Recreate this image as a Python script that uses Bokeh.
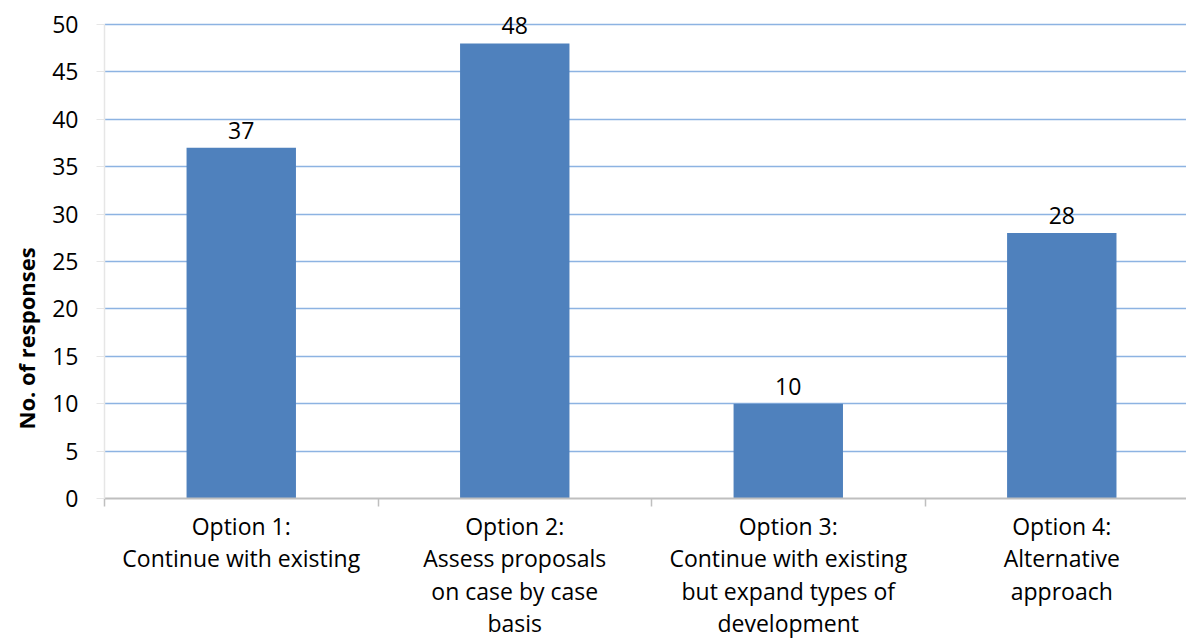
import math
from bokeh.plotting import figure
from bokeh.models import Range1d, FixedTicker, ColumnDataSource, LabelSet, Title
from bokeh.core.properties import value
from bokeh.embed import file_html
from bokeh.resources import INLINE

categories = [
    "Option 1:\nContinue with existing",
    "Option 2:\nAssess proposals\non case by case\nbasis",
    "Option 3:\nContinue with existing\nbut expand types of\ndevelopment",
    "Option 4:\nAlternative\napproach",
]
responses = [37, 48, 10, 28]
y_ticks = [0, 5, 10, 15, 20, 25, 30, 35, 40, 45, 50]
y_title = "No. of responses"

FONT = "Open Sans"
n = len(categories)
centers = [i + 0.5 for i in range(n)]
src = ColumnDataSource(dict(x=centers, top=responses, label=[str(v) for v in responses]))

p = figure(width=1186, height=642, output_backend="svg", toolbar_location=None,
           x_range=Range1d(0, 3.956), y_range=Range1d(0, 52.53),
           min_border_left=104, min_border_right=0, min_border_top=0, min_border_bottom=143)
p.outline_line_color = None
p.background_fill_color = "white"
p.border_fill_color = "white"

p.vbar(x="x", top="top", width=0.4, source=src, fill_color="#4f81bd", line_color=None)

# x axis
xa = p.xaxis[0]
xa.ticker = FixedTicker(ticks=centers, minor_ticks=list(range(0, n + 1)))
xa.major_label_overrides = {c: lab for c, lab in zip(centers, categories)}
xa.major_tick_out = 0
xa.major_tick_in = 0
xa.minor_tick_out = 8
xa.minor_tick_in = 0
xa.minor_tick_line_color = "#bfbfbf"
xa.minor_tick_line_width = 1.5
xa.axis_line_color = "#bfbfbf"
xa.axis_line_width = 2
xa.major_label_standoff = 3
xa.major_label_text_font = FONT
xa.major_label_text_font_size = "23px"
xa.major_label_text_color = "black"
xa.major_label_text_line_height = 1.02

# y axis
ya = p.yaxis[0]
ya.ticker = FixedTicker(ticks=y_ticks)
ya.bounds = (0, 50)
ya.major_tick_out = 8
ya.major_tick_in = 0
ya.minor_tick_out = 0
ya.minor_tick_in = 0
ya.major_tick_line_color = "#e6e6e6"
ya.axis_line_color = "#e6e6e6"
ya.axis_line_width = 1.5
ya.major_label_standoff = 18
ya.major_label_text_font = FONT
ya.major_label_text_font_size = "23px"
ya.major_label_text_color = "black"

p.xgrid.visible = False
p.ygrid.ticker = FixedTicker(ticks=y_ticks)
p.ygrid.grid_line_color = "#8db3e2"
p.ygrid.grid_line_width = 1.5

labels = LabelSet(x="x", y="top", text="label", source=src, y_offset=9,
                  text_align="center", text_baseline="alphabetic",
                  text_font=value(FONT), text_font_size=value("23px"), text_color="black")
p.add_layout(labels)

ytitle = Title(text=y_title, align="left", offset=69, standoff=17,
               text_font=FONT, text_font_size="22px", text_font_style="bold",
               text_color="black")
p.add_layout(ytitle, "left")

open("out.html", "w").write(file_html(p, INLINE))
